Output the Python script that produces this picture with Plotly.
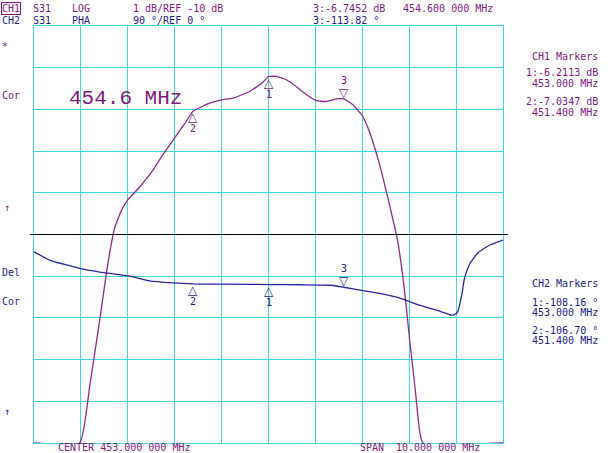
import plotly.graph_objects as go

# ---------------- data ----------------
freq_mag = [448.0, 448.974, 449.19, 449.40, 449.57, 449.72, 449.87, 450.0, 450.254, 450.51,
            450.745, 451.0, 451.215, 451.4, 451.75, 452.0, 452.24, 452.6, 452.87, 453.0,
            453.17, 453.38, 453.59, 453.81, 454.02, 454.23, 454.45, 454.6, 454.80, 455.01,
            455.16, 455.37, 455.58, 455.75, 455.90, 456.01, 456.12, 456.22, 456.29, 458.0]
mag_db = [-15.0, -15.0, -13.62, -12.06, -10.73, -9.84, -9.41, -9.17, -8.86, -8.50,
          -8.09, -7.68, -7.34, -7.0347, -6.85, -6.77, -6.73, -6.57, -6.36, -6.2113,
          -6.21, -6.29, -6.45, -6.65, -6.79, -6.81, -6.75, -6.7452, -6.89, -7.17,
          -7.56, -8.33, -9.29, -10.13, -11.34, -12.54, -13.62, -14.70, -15.0, -15.0]

freq_ph = [448.0, 448.335, 448.974, 449.401, 450.04, 450.467, 450.957, 451.4, 451.64, 452.6,
           453.0, 453.665, 454.34, 454.6, 454.95, 455.37, 455.8, 456.22, 456.65, 456.93,
           457.03, 457.12, 457.18, 457.29, 457.46, 457.72, 458.0]
phase_deg = [-37.2, -55.2, -73.1, -81.0, -90.0, -99.9, -104.3, -106.70, -107.1, -107.5,
             -108.16, -108.5, -109.5, -113.82, -120.1, -127.2, -137.4, -152.5, -165.5, -174.2,
             -167.7, -130.9, -94.1, -63.8, -40.0, -22.7, -11.9]

mk_labels = ["1", "2", "3"]
mk_freq = [453.0, 451.4, 454.6]
mk_mag = [-6.2113, -7.0347, -6.7452]
mk_phase = [-108.16, -106.70, -113.82]

ref_db = -10
center_mhz = 453.0
span_mhz = 10.0
db_per_div = 1
deg_per_div = 90

header1 = ["S31", "LOG", "1 dB/REF -10 dB", "3:-6.7452 dB", "454.600 000 MHz"]
header2 = ["S31", "PHA", "90 °/REF 0 °", "3:-113.82 °"]
ch1_markers = ["CH1 Markers", "1:-6.2113 dB", "453.000 MHz", "2:-7.0347 dB", "451.400 MHz"]
ch2_markers = ["CH2 Markers", "1:-108.16 °", "453.000 MHz", "2:-106.70 °", "451.400 MHz"]

# ---------------- style ----------------
PURPLE_T = "#7d1a80"
PURPLE = "#8c2a90"
BLUE_T = "#1c1c8a"
BLUE = "#2626a0"
CYAN = "#3fd8dc"
MONO = "DejaVu Sans Mono"

W, H = 611, 453
L, R, T, B = 34, 108, 26, 10
PW, PH = W - L - R, H - T - B


def px(x):
    return (x - L) / PW


def py(y):
    return (H - B - y) / PH


x_lo = center_mhz - span_mhz / 2
x_hi = center_mhz + span_mhz / 2
y_lo = ref_db - 5 * db_per_div
y_hi = ref_db + 5 * db_per_div

fig = go.Figure()

fig.add_trace(go.Scatter(x=freq_ph, y=phase_deg, yaxis="y2", mode="lines",
                         line=dict(color=BLUE, width=1.3, shape="spline", smoothing=0.5),
                         hoverinfo="skip", showlegend=False))
fig.add_trace(go.Scatter(x=freq_mag, y=mag_db, mode="lines",
                         line=dict(color=PURPLE, width=1.3, shape="spline", smoothing=0.4),
                         hoverinfo="skip", showlegend=False))

# reference line end markers
fig.add_trace(go.Scatter(x=[x_lo - 0.08, x_hi + 0.1], y=[ref_db, ref_db], mode="markers",
                         marker=dict(symbol=["triangle-right-open", "triangle-left-open"],
                                     size=6, color="black", line=dict(width=1)),
                         cliponaxis=False, hoverinfo="skip", showlegend=False))

shapes = [dict(type="line", xref="paper", yref="y", x0=px(30), x1=px(508),
               y0=ref_db, y1=ref_db, line=dict(color="black", width=1))]

ann = []


def text(x, y, s, color, size=10, xanchor="left", font=MONO, **kw):
    ann.append(dict(x=px(x), y=py(y), xref="paper", yref="paper", text=s, showarrow=False,
                    xanchor=xanchor, yanchor="middle",
                    font=dict(family=font, size=size, color=color), **kw))


# header
text(1, 8, "CH1", PURPLE_T, bordercolor=PURPLE_T, borderwidth=1, borderpad=0)
hx1 = [31, 70, 131, 311, 401]
for s, x in zip(header1, hx1):
    text(x, 8, s, PURPLE_T)
text(0, 20, "CH2", BLUE_T)
hx2 = [31, 70, 131, 311]
for s, x in zip(header2, hx2):
    text(x, 20, s, BLUE_T)

# left side
text(0, 46, "*", PURPLE_T)
text(0, 96, "Cor", PURPLE_T)
text(7, 207, "↑", PURPLE_T, xanchor="center")
text(0, 272, "Del", BLUE_T)
text(0, 301, "Cor", BLUE_T)
text(7, 411, "↑", BLUE_T, xanchor="center")

# right side marker tables
for s, y in zip(ch1_markers, [56, 73, 83, 102, 112]):
    text(600, y, s, PURPLE_T, xanchor="right")
for s, y in zip(ch2_markers, [283, 302, 312, 330, 340]):
    text(600, y, s, BLUE_T, xanchor="right")

# bottom
text(56, 448, "CENTER 453.000 000 MHz", PURPLE_T)
text(358, 448, "SPAN", PURPLE_T)
text(394, 448, "10.000 000 MHz", PURPLE_T)

# big frequency label
text(67, 98, "454.6 MHz", PURPLE_T, size=21, font="Liberation Mono")

# markers on traces
for lab, f, m, p in zip(mk_labels, mk_freq, mk_mag, mk_phase):
    for val, yref, col in ((m, "y", PURPLE_T), (p, "y2", BLUE_T)):
        if lab == "3":
            ann.append(dict(x=f, y=val, xref="x", yref=yref, text="▽", showarrow=False,
                            yanchor="bottom", yshift=-3, font=dict(family="DejaVu Sans", size=12, color=col)))
            ann.append(dict(x=f, y=val, xref="x", yref=yref, text=lab, showarrow=False,
                            yanchor="bottom", yshift=11, font=dict(family=MONO, size=10, color=col)))
        else:
            ann.append(dict(x=f, y=val, xref="x", yref=yref, text="△", showarrow=False,
                            yanchor="top", yshift=3, font=dict(family="DejaVu Sans", size=12, color=col)))
            ann.append(dict(x=f, y=val, xref="x", yref=yref, text=lab, showarrow=False,
                            yanchor="top", yshift=-10, font=dict(family=MONO, size=10, color=col)))

axis_common = dict(showgrid=True, gridcolor=CYAN, gridwidth=1, zeroline=False,
                   showticklabels=False, ticks="", showline=True, linecolor=CYAN,
                   linewidth=1, mirror=True, fixedrange=True)

fig.update_layout(
    width=W, height=H,
    margin=dict(l=L, r=R, t=T, b=B, pad=0),
    paper_bgcolor="white", plot_bgcolor="white",
    showlegend=False,
    xaxis=dict(range=[x_lo, x_hi], dtick=1, tick0=x_lo, **axis_common),
    yaxis=dict(range=[y_lo, y_hi], dtick=db_per_div, tick0=y_lo, **axis_common),
    yaxis2=dict(range=[-5 * deg_per_div, 5 * deg_per_div], overlaying="y", visible=False),
    shapes=shapes,
    annotations=ann,
)

fig.write_html("out.html", config={"displayModeBar": False},
               post_script="document.body.style.margin='0px';document.body.style.padding='0px';")
